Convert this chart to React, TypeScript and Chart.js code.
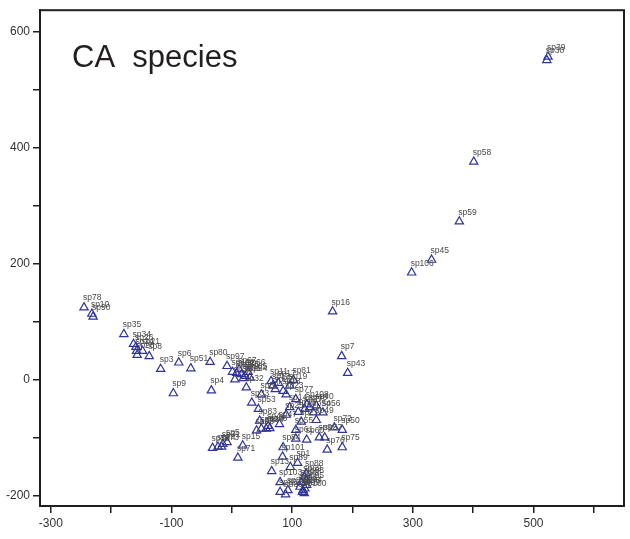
import React, { useEffect, useRef } from "react";
import { Chart, registerables } from "chart.js";

Chart.register(...registerables);

const speciesNames: string[] = [
  "sp39", "sp30", "sp58", "sp59", "sp45", "sp106", "sp16", "sp7", "sp43",
  "sp78", "sp10", "sp90", "sp35", "sp34", "sp26", "sp21", "sp24", "sp28", "sp8",
  "sp3", "sp6", "sp51", "sp9", "sp80", "sp97", "sp4",
  "sp102", "sp62", "sp63", "sp105", "sp64", "sp38", "sp65", "sp66", "sp67", "sp32",
  "sp11", "sp12", "sp17", "sp18", "sp19", "sp81", "sp22", "sp23",
  "sp33", "sp52", "sp53", "sp77", "sp108", "sp48", "sp40", "sp56", "sp37", "sp14",
  "sp36", "sp83", "sp41", "sp42", "sp44", "sp46", "sp47", "sp72", "sp50", "sp49",
  "sp54", "sp55", "sp92", "sp57", "sp60", "sp76", "sp75", "sp61", "sp68", "sp25", "sp27",
  "sp5", "sp73", "sp74", "sp79", "sp15", "sp71", "sp31",
  "sp84", "sp101", "sp13", "sp89", "sp1", "sp88", "sp103", "sp69",
  "sp85", "sp86", "sp87", "sp91", "sp93", "sp94", "sp95", "sp96", "sp98", "sp99", "sp100",
];

const axis1: number[] = [
  524, 522, 401, 377, 331, 298, 167, 182, 192,
  -245, -232, -230, -179, -163, -159, -148, -158, -157, -137,
  -118, -88, -68, -97, -36, -8, -34,
  1, 8, 16, 22, 30, 5, 19, 27, 12, 24,
  65, 68, 77, 85, 96, 102, 72, 90,
  33, 49, 44, 106, 124, 129, 140, 151, 121, 96,
  110, 46, 60, 49, 57, 63, 79, 170, 183, 140,
  135, 106, 145, 154, 124, 158, 183, 106, 41, 90, 115,
  -8, -17, -23, -32, 18, 10, -15,
  85, 84, 66, 97, 109, 123, 80, 120,
  80, 89, 93, 113, 118, 121, 124, 115, 124, 117, 120,
];

const axis2: number[] = [
  557, 551, 376, 273, 207, 185, 118, 41, 12,
  125, 114, 109, 79, 62, 57, 50, 50, 43, 41,
  19, 30, 20, -23, 31, 24, -18,
  14, 12, 10, 7, 4, 1, 3, 14, 18, -13,
  -2, -10, -5, -19, -10, 0, -16, -25,
  -39, -25, -50, -33, -42, -47, -44, -56, -50, -47,
  -55, -70, -79, -84, -84, -83, -76, -82, -86, -69,
  -56, -86, -99, -99, -103, -120, -116, -101, -87, -60, -72,
  -107, -115, -115, -117, -113, -134, -110,
  -116, -132, -157, -150, -143, -161, -176, -168,
  -193, -197, -190, -184, -190, -187, -181, -176, -173, -193, -195,
];

const xTicks: number[] = [-300, -200, -100, 0, 100, 200, 300, 400, 500, 600];
const xTickLabels: number[] = [-300, -100, 100, 300, 500];
const yTicks: number[] = [-200, -100, 0, 100, 200, 300, 400, 500, 600];
const yTickLabels: number[] = [-200, 0, 200, 400, 600];

const titleText = "CA  species";

const ink = "#231f20";
const markColor = "#2f349c";

export default function App() {
  const ref = useRef<HTMLCanvasElement | null>(null);

  useEffect(() => {
    if (!ref.current) return;
    const points = axis1.map((x, i) => ({ x, y: axis2[i] }));

    const labelPlugin = {
      id: "speciesLabels",
      afterDatasetsDraw(chart: any) {
        const ctx = chart.ctx;
        const meta = chart.getDatasetMeta(0);
        ctx.save();
        ctx.font = '8.5px "Liberation Sans", Arial, sans-serif';
        ctx.fillStyle = "#4a4a4a";
        ctx.textAlign = "left";
        ctx.textBaseline = "alphabetic";
        meta.data.forEach((el: any, i: number) => {
          ctx.fillText(speciesNames[i], el.x - 1, el.y - 7);
        });
        ctx.restore();
      },
    };

    const boxPlugin = {
      id: "boxAndTitle",
      afterDraw(chart: any) {
        const { ctx, chartArea } = chart;
        ctx.save();
        ctx.strokeStyle = ink;
        ctx.lineWidth = 2;
        ctx.strokeRect(
          chartArea.left,
          chartArea.top,
          chartArea.right - chartArea.left,
          chartArea.bottom - chartArea.top
        );
        ctx.font = '31px "Liberation Sans", Arial, sans-serif';
        ctx.fillStyle = ink;
        ctx.textAlign = "left";
        ctx.textBaseline = "alphabetic";
        ctx.fillText(titleText, chartArea.left + 32, chartArea.top + 57);
        ctx.restore();
      },
    };

    const chart = new Chart(ref.current, {
      type: "scatter",
      data: {
        datasets: [
          {
            data: points,
            pointStyle: "triangle",
            pointRadius: 4.8,
            pointHoverRadius: 4.8,
            borderColor: markColor,
            backgroundColor: "rgba(0,0,0,0)",
            borderWidth: 1.2,
          },
        ],
      },
      options: {
        animation: false,
        responsive: false,
        events: [],
        layout: { padding: { top: 6, right: 5, left: 0, bottom: 0 } },
        plugins: {
          legend: { display: false },
          tooltip: { enabled: false },
        },
        scales: {
          x: {
            type: "linear",
            min: -318,
            max: 650,
            afterBuildTicks: (scale: any) => {
              scale.ticks = xTicks.map((v) => ({ value: v }));
            },
            afterFit: (scale: any) => {
              scale.height = 33;
            },
            grid: {
              display: true,
              drawOnChartArea: false,
              drawTicks: true,
              tickLength: 7,
              color: ink,
              lineWidth: 1.5,
            },
            border: { display: true, color: ink, width: 2 },
            ticks: {
              autoSkip: false,
              maxRotation: 0,
              padding: 3,
              color: "#333",
              font: { family: '"Liberation Sans", Arial, sans-serif', size: 12 },
              callback: (v: any) => (xTickLabels.includes(Number(v)) ? String(v) : ""),
            },
          },
          y: {
            type: "linear",
            min: -217,
            max: 637,
            afterBuildTicks: (scale: any) => {
              scale.ticks = yTicks.map((v) => ({ value: v }));
            },
            afterFit: (scale: any) => {
              scale.width = 40;
            },
            grid: {
              display: true,
              drawOnChartArea: false,
              drawTicks: true,
              tickLength: 7,
              color: ink,
              lineWidth: 1.5,
            },
            border: { display: true, color: ink, width: 2 },
            ticks: {
              autoSkip: false,
              padding: 3,
              color: "#333",
              font: { family: '"Liberation Sans", Arial, sans-serif', size: 12 },
              callback: (v: any) => (yTickLabels.includes(Number(v)) ? String(v) : ""),
            },
          },
        },
      },
      plugins: [labelPlugin, boxPlugin],
    } as any);

    return () => chart.destroy();
  }, []);

  return (
    <div style={{ position: "absolute", left: 0, top: 0, width: 630, height: 539, background: "#fff" }}>
      <canvas ref={ref} width={630} height={539} style={{ display: "block", width: 630, height: 539 }} />
    </div>
  );
}
